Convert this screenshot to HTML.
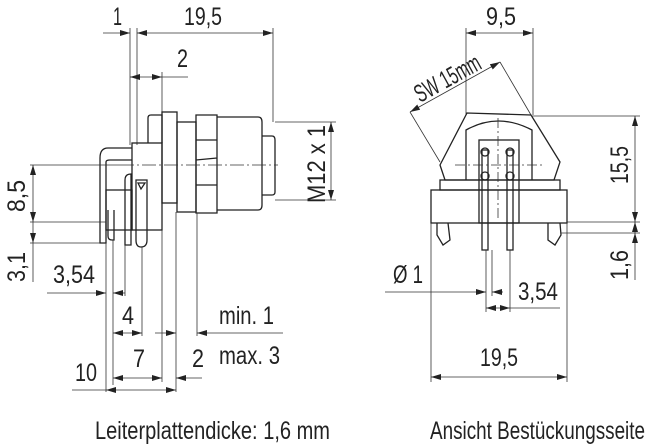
<!DOCTYPE html>
<html><head><meta charset="utf-8"><style>
html,body{margin:0;padding:0;background:#fff;width:647px;height:445px;overflow:hidden}
svg{display:block}
text{font-family:"Liberation Sans",sans-serif;fill:#222;font-size:25px}
</style></head><body>
<svg width="647" height="445" viewBox="0 0 647 445" xmlns="http://www.w3.org/2000/svg">
<defs>
<marker id="a" viewBox="0 0 10 6" refX="10" refY="3" markerWidth="10" markerHeight="6" orient="auto-start-reverse" markerUnits="userSpaceOnUse"><path d="M0,0L10,3L0,6z" fill="#222"/></marker>
</defs>
<g stroke="#333" stroke-width="0.8" fill="none">
<line x1="130" y1="28" x2="130" y2="145"/>
<line x1="137" y1="28" x2="137" y2="145"/>
<line x1="273" y1="28" x2="273" y2="122"/>
<line x1="162" y1="72" x2="162" y2="112"/>
<line x1="103" y1="33" x2="130" y2="33" marker-end="url(#a)"/>
<line x1="137" y1="33" x2="273" y2="33" marker-start="url(#a)" marker-end="url(#a)"/>
<line x1="130" y1="77" x2="162" y2="77" marker-start="url(#a)" marker-end="url(#a)"/>
<line x1="162" y1="77" x2="188" y2="77"/>
<g stroke="#222" stroke-width="1.3">
<path d="M148,143 L148,118 Q148,115 151,115 L162,115 L162,143"/>
<rect x="162" y="112" width="15" height="91"/>
<rect x="177" y="122" width="19" height="90"/>
<path d="M196,115 L217,115 L217,213 L196,213 Z M196,140 L217,140 M196,160 L217,158 M196,185 L217,185"/>
<path d="M217,117 L258,117 Q262,117 262,122 L262,205 Q262,210 258,210 L217,210"/>
<path d="M262,136 L272,136 Q275,136 275,140 L275,192 Q275,195 272,195 L262,195"/>
<rect x="132" y="143" width="30" height="87"/>
<path d="M132,148 L108,148 Q100,148 100,158 L100,243 L106,243 L106,162 Q106,160 110,160 L132,160"/>
<rect x="106" y="190" width="26" height="40"/>
<path d="M108,210 L108,236 Q108,240 112,240 L114,240 L114,210"/>
<path d="M125,180 Q125,174 131,174 L131,245 L125,245 Z"/>
<path d="M136,180 L147,180 L147,240 Q147,247 141,247 Q136,247 136,240 Z M138,183 L145,183 L141,189 Z"/>
</g>
<line x1="120" y1="165" x2="278" y2="165" stroke-dasharray="14,3,2,3"/>
<line x1="30" y1="165" x2="120" y2="165"/>
<line x1="30" y1="222" x2="106" y2="222"/>
<line x1="30" y1="243" x2="100" y2="243"/>
<line x1="33" y1="165" x2="33" y2="222" marker-start="url(#a)" marker-end="url(#a)"/>
<line x1="33" y1="222" x2="33" y2="243" marker-end="url(#a)"/>
<line x1="33" y1="243" x2="33" y2="282"/>
<line x1="275" y1="122" x2="336" y2="122"/>
<line x1="275" y1="200" x2="336" y2="200"/>
<line x1="331" y1="122" x2="331" y2="200" marker-start="url(#a)" marker-end="url(#a)"/>
<line x1="106" y1="243" x2="106" y2="392"/>
<line x1="113" y1="240" x2="113" y2="385"/>
<line x1="125" y1="245" x2="125" y2="296"/>
<line x1="142" y1="247" x2="142" y2="336"/>
<line x1="162" y1="230" x2="162" y2="382"/>
<line x1="176" y1="212" x2="176" y2="392"/>
<line x1="197" y1="213" x2="197" y2="336"/>
<line x1="47" y1="293" x2="106" y2="293" marker-end="url(#a)"/>
<line x1="113" y1="293" x2="125" y2="293" marker-start="url(#a)"/>
<line x1="113" y1="333" x2="142" y2="333" marker-start="url(#a)" marker-end="url(#a)"/>
<line x1="155" y1="333" x2="176" y2="333" marker-end="url(#a)"/>
<line x1="197" y1="333" x2="283" y2="333" marker-start="url(#a)"/>
<line x1="113" y1="378" x2="162" y2="378" marker-start="url(#a)" marker-end="url(#a)"/>
<line x1="176" y1="378" x2="202" y2="378" marker-start="url(#a)"/>
<line x1="72" y1="390" x2="106" y2="390"/>
<line x1="106" y1="390" x2="176" y2="390" marker-start="url(#a)" marker-end="url(#a)"/>

<line x1="466" y1="28" x2="466" y2="115"/>
<line x1="533" y1="28" x2="533" y2="115"/>
<line x1="466" y1="33" x2="533" y2="33" marker-start="url(#a)" marker-end="url(#a)"/>
<line x1="440" y1="162" x2="410" y2="112"/>
<line x1="531" y1="115" x2="500" y2="62"/>
<line x1="410" y1="112" x2="500" y2="62" marker-start="url(#a)" marker-end="url(#a)"/>
<g stroke="#222" stroke-width="1.3">
<path d="M440,165 L467,113 L531,115 L560,162 L554,180 L445,180 Z"/>
<path d="M466,180 L466,130 Q498,112 532,130 L532,180"/>
<rect x="440" y="180" width="120" height="10"/>
<rect x="431" y="190" width="136" height="33"/>
<rect x="479" y="140" width="40" height="83"/>
<rect x="482" y="150" width="6" height="100"/>
<rect x="507" y="150" width="6" height="100"/>
<circle cx="485" cy="152" r="4"/><circle cx="510" cy="152" r="4"/>
<circle cx="485" cy="176" r="4"/><circle cx="510" cy="176" r="4"/>
<path d="M437,223 L437,235 L443,245 L450,240 L448,223"/>
<path d="M548,223 L548,240 L555,245 L561,235 L560,223"/>
</g>
<line x1="498" y1="118" x2="498" y2="220" stroke-dasharray="10,3,2,3"/>
<line x1="455" y1="165" x2="545" y2="165" stroke-dasharray="10,3,2,3"/>
<line x1="531" y1="116" x2="640" y2="116"/>
<line x1="567" y1="222" x2="640" y2="222"/>
<line x1="561" y1="233" x2="640" y2="233"/>
<line x1="635" y1="116" x2="635" y2="222" marker-start="url(#a)" marker-end="url(#a)"/>
<line x1="635" y1="233" x2="635" y2="222" marker-end="url(#a)"/>
<line x1="635" y1="245" x2="635" y2="233" marker-end="url(#a)"/>
<line x1="635" y1="245" x2="635" y2="280"/>
<line x1="486" y1="250" x2="486" y2="312"/>
<line x1="492" y1="250" x2="492" y2="296"/>
<line x1="510" y1="250" x2="510" y2="312"/>
<line x1="431" y1="223" x2="431" y2="382"/>
<line x1="567" y1="223" x2="567" y2="382"/>
<line x1="385" y1="292" x2="486" y2="292" marker-end="url(#a)"/>
<line x1="492" y1="292" x2="503" y2="292" marker-start="url(#a)"/>
<line x1="486" y1="308" x2="510" y2="308" marker-start="url(#a)" marker-end="url(#a)"/>
<line x1="510" y1="308" x2="560" y2="308"/>
<line x1="431" y1="377" x2="567" y2="377" marker-start="url(#a)" marker-end="url(#a)"/>
</g>

<text x="113" y="25" textLength="9" lengthAdjust="spacingAndGlyphs">1</text>
<text x="184" y="25" textLength="38" lengthAdjust="spacingAndGlyphs">19,5</text>
<text x="177" y="67" textLength="11" lengthAdjust="spacingAndGlyphs">2</text>
<text transform="translate(25,212) rotate(-90)" textLength="32" lengthAdjust="spacingAndGlyphs">8,5</text>
<text transform="translate(25,282) rotate(-90)" textLength="30" lengthAdjust="spacingAndGlyphs">3,1</text>
<text transform="translate(325,203) rotate(-90)" textLength="78" lengthAdjust="spacingAndGlyphs">M12 x 1</text>
<text x="53" y="283" textLength="42" lengthAdjust="spacingAndGlyphs">3,54</text>
<text x="122" y="324" textLength="12" lengthAdjust="spacingAndGlyphs">4</text>
<text x="219" y="324" textLength="55" lengthAdjust="spacingAndGlyphs">min. 1</text>
<text x="133" y="367" textLength="12" lengthAdjust="spacingAndGlyphs">7</text>
<text x="192" y="367" textLength="12" lengthAdjust="spacingAndGlyphs">2</text>
<text x="219" y="364" textLength="61" lengthAdjust="spacingAndGlyphs">max. 3</text>
<text x="75" y="381" textLength="22" lengthAdjust="spacingAndGlyphs">10</text>
<text x="95" y="439" textLength="235" lengthAdjust="spacingAndGlyphs">Leiterplattendicke: 1,6 mm</text>
<text x="486" y="25" textLength="30" lengthAdjust="spacingAndGlyphs">9,5</text>
<text font-size="19" transform="translate(420,103) rotate(-29)" textLength="72" lengthAdjust="spacingAndGlyphs">SW 15mm</text>
<text transform="translate(628,184) rotate(-90)" textLength="38" lengthAdjust="spacingAndGlyphs">15,5</text>
<text transform="translate(628,280) rotate(-90)" textLength="30" lengthAdjust="spacingAndGlyphs">1,6</text>
<text x="393" y="283" textLength="30" lengthAdjust="spacingAndGlyphs">Ø 1</text>
<text x="518" y="300" textLength="40" lengthAdjust="spacingAndGlyphs">3,54</text>
<text x="480" y="366" textLength="38" lengthAdjust="spacingAndGlyphs">19,5</text>
<text x="430" y="439" textLength="215" lengthAdjust="spacingAndGlyphs">Ansicht Bestückungsseite</text>
</svg>
</body></html>
